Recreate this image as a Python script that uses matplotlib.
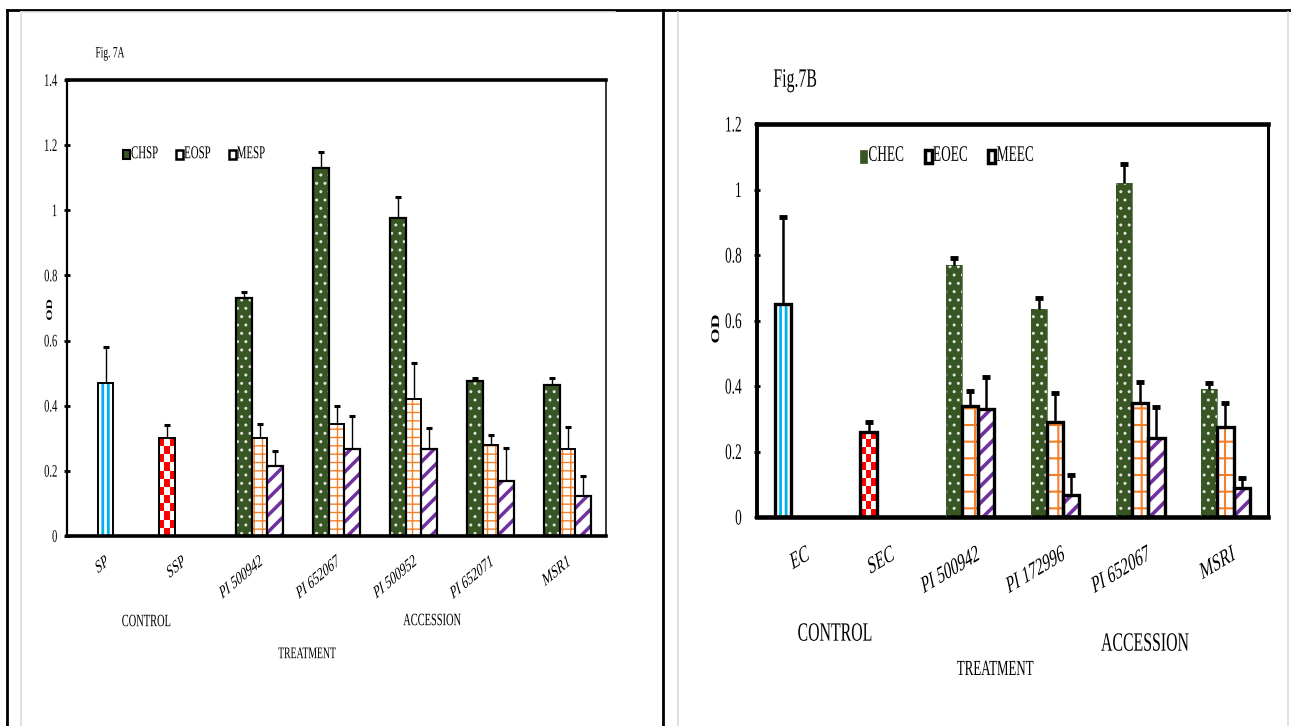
import numpy as np
import matplotlib
matplotlib.use("Agg")
import matplotlib.pyplot as plt
from matplotlib.lines import Line2D
from matplotlib.patches import Patch
from matplotlib.patheffects import AbstractPathEffect
from matplotlib.text import Text
from matplotlib.transforms import Affine2D

plt.rcParams["font.family"] = ["Liberation Serif", "DejaVu Serif"]

# ---- Fig. 7A : OD of seed protein extracts ----
groups_a = ["SP", "SSP", "PI 500942", "PI 652067", "PI 500952", "PI 652071", "MSR1"]
control_a = [0.47, 0.30]
control_a_err = [0.11, 0.04]
chsp = [0.73, 1.13, 0.975, 0.475, 0.465]
chsp_err = [0.02, 0.05, 0.065, 0.01, 0.02]
eosp = [0.30, 0.345, 0.42, 0.28, 0.268]
eosp_err = [0.045, 0.055, 0.11, 0.03, 0.067]
mesp = [0.215, 0.267, 0.268, 0.17, 0.124]
mesp_err = [0.045, 0.10, 0.065, 0.10, 0.06]

# ---- Fig. 7B : OD of extract controls ----
groups_b = ["EC", "SEC", "PI 500942", "PI 172996", "PI 652067", "MSRI"]
control_b = [0.65, 0.26]
control_b_err = [0.265, 0.03]
chec = [0.77, 0.635, 1.02, 0.39]
chec_err = [0.02, 0.035, 0.057, 0.018]
eoec = [0.34, 0.29, 0.348, 0.276]
eoec_err = [0.046, 0.088, 0.063, 0.071]
meec = [0.33, 0.066, 0.241, 0.089]
meec_err = [0.098, 0.062, 0.096, 0.03]

W, H = 1291, 726
STRETCH = 1 / 0.6   # tall, narrow lettering

GREEN = "#375623"
ORANGE = "#F4812A"
PURPLE = "#7030A0"
CYAN = "#00B0F0"
DOTS = "#dfe3da"


def fx(px):
    return px / W


def fy(py):
    return 1 - py / H


class Tall(AbstractPathEffect):
    """Stretch glyph outlines vertically about the text anchor."""

    def __init__(self, text, sy):
        super().__init__()
        self.text = text
        self.sy = sy

    def draw_path(self, renderer, gc, tpath, affine, rgbFace=None):
        _, y0 = self.text.get_transform().transform(self.text.get_unitless_position())
        stretch = Affine2D().translate(0, -y0).scale(1, self.sy).translate(0, y0)
        renderer.draw_path(gc, tpath, affine + stretch, rgbFace)


def pattern_bar(ax, x, h, w, face, hcolor, hatch, hlw, edge, elw):
    bars = ax.bar(x, h, w, color=face, edgecolor=hcolor, hatch=hatch,
                  linewidth=0, zorder=2)
    for p in bars:
        if hasattr(p, "set_hatch_linewidth"):
            p.set_hatch_linewidth(hlw)
    ax.bar(x, h, w, fill=False, edgecolor=edge, linewidth=elw, zorder=3)


def checker_bar(ax, x, h, w, ymax, elw):
    # red / white chequer filling the bar outline
    h_px = h / ymax * ax.get_position().height * H
    rows = max(1, int(round(h_px / 8)))
    cells = np.add.outer(np.arange(rows), np.arange(3)) % 2
    rgb = np.ones((rows, 3, 3))
    rgb[cells == 0] = [1, 0, 0]
    ax.imshow(rgb, extent=[x - w / 2, x + w / 2, 0, h], aspect="auto",
              interpolation="nearest", zorder=2)
    ax.bar(x, h, w, fill=False, edgecolor="black", linewidth=elw, zorder=3)


def upper_err(ax, x, h, e, lw, cap, capthick):
    eb = ax.errorbar(x, h, yerr=[np.zeros(len(e)), e], fmt="none", ecolor="black",
                     elinewidth=lw, capsize=cap, capthick=capthick, zorder=4)
    eb[1][0].set_visible(False)


def style_axes(ax, ymax, widths, ypad, ysize):
    for side, lw in widths.items():
        ax.spines[side].set_linewidth(lw)
        ax.spines[side].set_color("black")
    ax.set_ylim(0, ymax)
    ticks = np.round(np.arange(0, ymax + 0.01, 0.2), 1)
    ax.set_yticks(ticks)
    ax.set_yticklabels([f"{t:g}" for t in ticks])
    ax.tick_params(axis="y", direction="inout", length=4, width=2,
                   pad=ypad, labelsize=ysize)
    ax.tick_params(axis="x", length=0)


fig = plt.figure(figsize=(W / 100, H / 100), dpi=100)

# cell borders of the two-panel table
for x0 in (7, 663):
    fig.add_artist(Line2D([fx(x0), fx(x0)], [0, fy(10)], transform=fig.transFigure,
                          color="black", lw=2))
fig.add_artist(Line2D([fx(7), 1], [fy(10), fy(10)], transform=fig.transFigure,
                      color="black", lw=2))
for x0 in (21, 678, 1288):
    fig.add_artist(Line2D([fx(x0), fx(x0)], [0, fy(12)], transform=fig.transFigure,
                          color="#dcdcdc", lw=1.2))
fig.add_artist(Line2D([fx(21), fx(615)], [fy(12), fy(12)], transform=fig.transFigure,
                      color="#e6e6e6", lw=1.2))

# ================= Fig. 7A =================
axA = fig.add_axes([fx(67), fy(536), fx(606) - fx(67), fy(80) - fy(536)])
wa = 0.2
xa = np.arange(len(groups_a))
acc_a = xa[2:]
style_axes(axA, 1.4, {"left": 1.6, "right": 1.1, "top": 2.6, "bottom": 2.6}, 5, 7.6)

pattern_bar(axA, xa[0], control_a[0], wa, "white", CYAN, "|||", 2.0, "black", 1.4)
checker_bar(axA, xa[1] - wa, control_a[1], wa, 1.4, 1.4)
upper_err(axA, [xa[0], xa[1] - wa], control_a, control_a_err, 1.0, 2, 2.2)

pattern_bar(axA, acc_a - wa, chsp, wa, GREEN, DOTS, "..", 1.0, "black", 1.6)
pattern_bar(axA, acc_a, eosp, wa, "white", ORANGE, "++", 1.0, "black", 1.4)
pattern_bar(axA, acc_a + wa, mesp, wa, "white", PURPLE, "//", 2.5, "black", 1.6)
upper_err(axA, acc_a - wa, chsp, chsp_err, 1.0, 2, 2.2)
upper_err(axA, acc_a, eosp, eosp_err, 1.0, 2, 2.2)
upper_err(axA, acc_a + wa, mesp, mesp_err, 1.0, 2, 2.2)

axA.set_xlim(-0.5, len(groups_a) - 0.5)
axA.set_ylim(0, 1.4)
axA.set_xticks(xa)
axA.set_xticklabels(groups_a, rotation=27, ha="right", va="top",
                    rotation_mode="anchor")
axA.tick_params(axis="x", pad=13, labelsize=8.0)

handles_a = [Patch(facecolor=GREEN, edgecolor="black", lw=1.5, label="CHSP"),
             Patch(facecolor="white", edgecolor="black", lw=1.8, label="EOSP"),
             Patch(facecolor="white", edgecolor="black", lw=1.8, label="MESP")]
axA.legend(handles=handles_a, loc="center left", bbox_to_anchor=(fx(123), fy(155)),
           bbox_transform=fig.transFigure, ncol=3, frameon=False, fontsize=7.8,
           handlelength=0.62, handleheight=0.95, handletextpad=0.12,
           columnspacing=1.65, borderpad=0, borderaxespad=0)

fig.text(fx(110), fy(54), "Fig. 7A", ha="center", va="center", fontsize=6.8)
fig.text(fx(50), fy(310), "OD", ha="center", va="center", rotation=90,
         fontsize=6.2, fontweight="bold")
fig.text(fx(146), fy(622), "CONTROL", ha="center", va="center", fontsize=7.5)
fig.text(fx(432), fy(621), "ACCESSION", ha="center", va="center", fontsize=7.5)
fig.text(fx(307), fy(654), "TREATMENT", ha="center", va="center", fontsize=7.0)

# ================= Fig. 7B =================
axB = fig.add_axes([fx(757), fy(517), fx(1268) - fx(757), fy(124) - fy(517)])
wb = 0.19
xb = np.arange(len(groups_b))
acc_b = xb[2:]
style_axes(axB, 1.2, {"left": 2.8, "right": 2.2, "top": 3.3, "bottom": 3.3}, 9, 9.6)

pattern_bar(axB, xb[0] - wb, control_b[0], wb, "white", CYAN, "|||", 2.0, "black", 2.4)
checker_bar(axB, xb[1] - wb, control_b[1], wb, 1.2, 2.4)
upper_err(axB, xb[:2] - wb, control_b, control_b_err, 1.8, 3, 3.5)

pattern_bar(axB, acc_b - wb, chec, wb, GREEN, DOTS, "..", 1.0, GREEN, 0.5)
pattern_bar(axB, acc_b, eoec, wb, "white", ORANGE, "+", 1.5, "black", 2.4)
pattern_bar(axB, acc_b + wb, meec, wb, "white", PURPLE, "//", 2.6, "black", 2.4)
upper_err(axB, acc_b - wb, chec, chec_err, 1.8, 3, 3.5)
upper_err(axB, acc_b, eoec, eoec_err, 1.8, 3, 3.5)
upper_err(axB, acc_b + wb, meec, meec_err, 1.8, 3, 3.5)

axB.set_xlim(-0.5, len(groups_b) - 0.5)
axB.set_ylim(0, 1.2)
axB.set_xticks(xb + 0.08)
axB.set_xticklabels(groups_b, rotation=20, ha="right", va="top",
                    rotation_mode="anchor")
axB.tick_params(axis="x", pad=19, labelsize=10.5)

handles_b = [Patch(facecolor=GREEN, edgecolor=GREEN, lw=0.5, label="CHEC"),
             Patch(facecolor="white", edgecolor="black", lw=2.5, label="EOEC"),
             Patch(facecolor="white", edgecolor="black", lw=2.5, label="MEEC")]
axB.legend(handles=handles_b, loc="center left", bbox_to_anchor=(fx(860), fy(157)),
           bbox_transform=fig.transFigure, ncol=3, frameon=False, fontsize=9.6,
           handlelength=0.53, handleheight=1.05, handletextpad=0.1,
           columnspacing=1.55, borderpad=0, borderaxespad=0)

fig.text(fx(795), fy(80), "Fig.7B", ha="center", va="center", fontsize=11.4)
fig.text(fx(716), fy(329), "OD", ha="center", va="center", rotation=90,
         fontsize=8.4, fontweight="bold")
fig.text(fx(835), fy(634), "CONTROL", ha="center", va="center", fontsize=11.4)
fig.text(fx(1145), fy(644), "ACCESSION", ha="center", va="center", fontsize=11.4)
fig.text(fx(995), fy(670), "TREATMENT", ha="center", va="center", fontsize=9.3)

# tall lettering throughout
for t in fig.findobj(Text):
    if t.get_text():
        t.set_path_effects([Tall(t, STRETCH)])

fig.savefig("out.png", dpi=100)
